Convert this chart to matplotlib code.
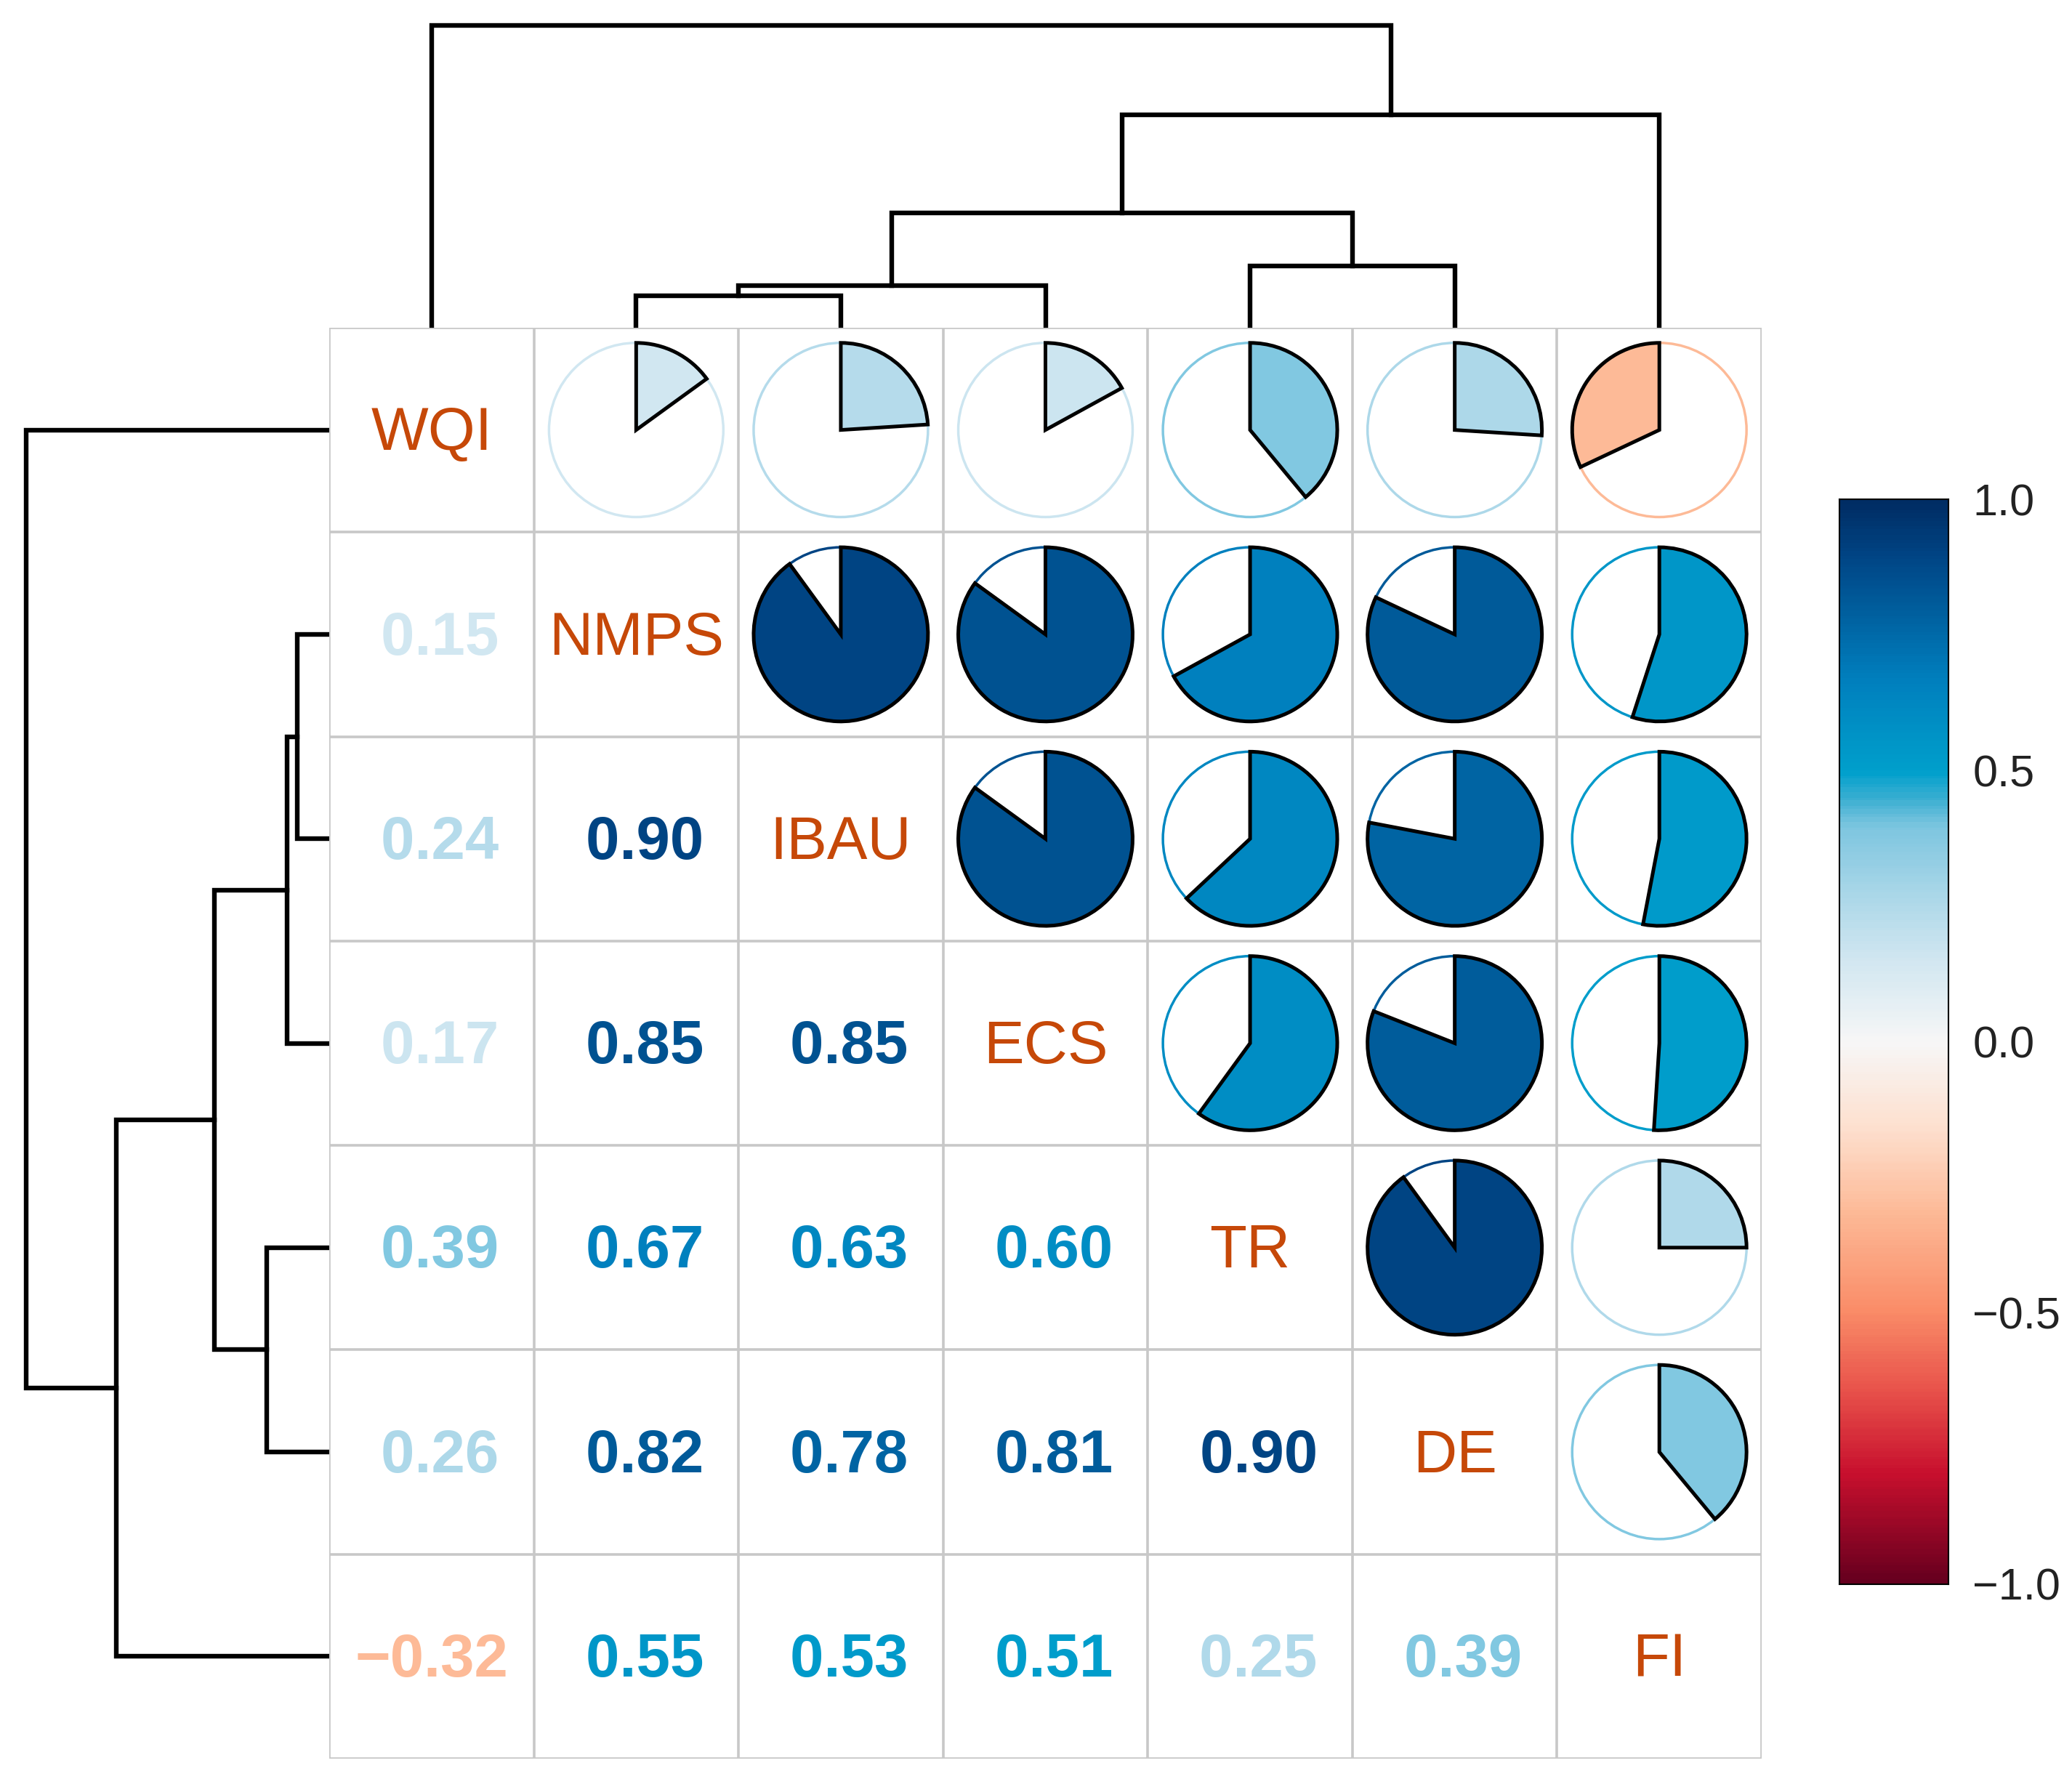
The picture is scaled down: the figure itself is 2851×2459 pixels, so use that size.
import numpy as np
import matplotlib
matplotlib.use('Agg')
import matplotlib.pyplot as plt
from matplotlib.patches import Wedge, Circle
from matplotlib.colors import LinearSegmentedColormap

plt.rcParams['font.family'] = ['Liberation Sans', 'DejaVu Sans']

labels = ['WQI', 'NMPS', 'IBAU', 'ECS', 'TR', 'DE', 'FI']
# lower triangle of the correlation matrix, row by row
corr_rows = [
    [],
    [0.15],
    [0.24, 0.90],
    [0.17, 0.85, 0.85],
    [0.39, 0.67, 0.63, 0.60],
    [0.26, 0.82, 0.78, 0.81, 0.90],
    [-0.32, 0.55, 0.53, 0.51, 0.25, 0.39],
]
# hierarchical clustering merges: (left node, right node, height)
# nodes 0..6 are leaves, 7.. are merges in order
merges = [
    (1, 2, 24),
    (7, 3, 32),
    (4, 5, 47),
    (8, 9, 87),
    (10, 6, 161),
    (0, 11, 229),
]
cbar_ticks = [-1.0, -0.5, 0.0, 0.5, 1.0]

n = len(labels)
mtx = np.eye(n)
for i, row in enumerate(corr_rows):
    for j, v in enumerate(row):
        mtx[i, j] = v
        mtx[j, i] = v

# red-white-blue key as it appears in the picture
cmap = LinearSegmentedColormap.from_list('rdbu_key', [
    (0.0, '#67001F'), (0.1, '#C8102E'), (0.175, '#E8514A'), (0.25, '#FA8C68'),
    (0.34, '#FDB996'), (0.42, '#FEE0CF'), (0.5, '#F7F7F7'), (0.575, '#D2E7F1'),
    (0.625, '#B2DAEA'), (0.7, '#7DC6E0'), (0.725, '#3CAFD2'), (0.75, '#00A0CC'),
    (0.835, '#0080BE'), (0.95, '#004585'), (1.0, '#002D64')])
norm = plt.Normalize(-1, 1)
lblcol = '#C64808'
gridcol = '#c8c8c8'

W, H = 2851, 2459
fig = plt.figure(figsize=(W / 100, H / 100), dpi=100)

# main grid position in pixels
gx0, gx1, gy0, gy1 = 453, 2424, 451, 2420
ax = fig.add_axes([gx0 / W, 1 - gy1 / H, (gx1 - gx0) / W, (gy1 - gy0) / H])
ax.set_xlim(0, n)
ax.set_ylim(0, n)
ax.axis('off')

for k in range(n + 1):
    ax.plot([k, k], [0, n], color=gridcol, lw=2.6, zorder=1, solid_capstyle='projecting')
    ax.plot([0, n], [k, k], color=gridcol, lw=2.6, zorder=1, solid_capstyle='projecting')

r = 0.426
for i in range(n):
    y = n - 0.5 - i
    for j in range(n):
        x = j + 0.5
        v = mtx[i, j]
        col = cmap(norm(v))
        if i == j:
            ax.text(x, y - 0.02, labels[i], ha='center', va='center', fontsize=60, color=lblcol)
        elif i > j:
            ax.text(x, y - 0.02, '{:5.2f}'.format(v).replace('-', '\u2212'), ha='center', va='center',
                    fontsize=60, fontweight='bold', color=col)
        else:
            ax.add_patch(Circle((x, y), r, facecolor='white', edgecolor=col, lw=2.5, zorder=2))
            if v >= 0:
                t1, t2 = 90 - 360 * v, 90
            else:
                t1, t2 = 90, 90 + 360 * abs(v)
            ax.add_patch(Wedge((x, y), r, t1, t2, facecolor=col, edgecolor='black', lw=3.6, zorder=3))


def dendro(ax, orient):
    pos = {k: k + 0.5 if orient == 'top' else n - 0.5 - k for k in range(n)}
    hgt = {k: 0 for k in range(n)}
    for m, (a, b, h) in enumerate(merges):
        xs = [pos[a], pos[a], pos[b], pos[b]]
        hs = [hgt[a], h, h, hgt[b]]
        if orient == 'top':
            ax.plot(xs, hs, color='black', lw=4.6, solid_joinstyle='miter')
        else:
            ax.plot(hs, xs, color='black', lw=4.6, solid_joinstyle='miter')
        pos[n + m] = (pos[a] + pos[b]) / 2
        hgt[n + m] = h


axt = fig.add_axes([gx0 / W, 1 - gy0 / H, (gx1 - gx0) / W, gy0 / H])
axt.set_xlim(0, n)
axt.set_ylim(0, 248)
axt.axis('off')
dendro(axt, 'top')

axl = fig.add_axes([0, 1 - gy1 / H, gx0 / W, (gy1 - gy0) / H])
axl.set_ylim(0, n)
axl.set_xlim(249, 0)
axl.axis('off')
dendro(axl, 'left')

# colour key
cx0, cx1, cy0, cy1 = 2531, 2681, 687, 2180
axc = fig.add_axes([cx0 / W, 1 - cy1 / H, (cx1 - cx0) / W, (cy1 - cy0) / H])
grad = np.linspace(-1, 1, 400)[:, None]
axc.imshow(grad, cmap=cmap, norm=norm, aspect='auto', extent=[0, 1, -1, 1], origin='lower')
axc.set_xlim(0, 1)
axc.set_ylim(-1, 1)
axc.set_xticks([])
axc.set_yticks(cbar_ticks)
axc.set_yticklabels(['{:.1f}'.format(t).replace('-', '\u2212') for t in cbar_ticks])
axc.set_yticks([-0.5, 0.0, 0.5], minor=True)
axc.tick_params(axis='y', which='major', left=False, right=True, labelleft=False,
                labelright=True, length=0, pad=24, labelsize=44, labelcolor='#222222')
axc.tick_params(axis='y', which='minor', left=True, right=True, direction='in',
                length=22, width=1.5)
for s in axc.spines.values():
    s.set_linewidth(1.5)

plt.savefig('out.png', dpi=100)
